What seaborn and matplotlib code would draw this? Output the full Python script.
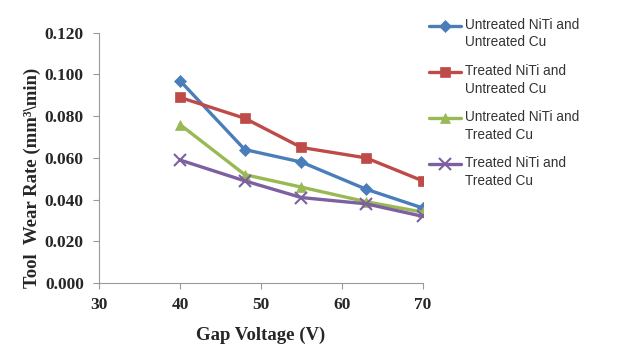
import matplotlib
matplotlib.use('Agg')
import matplotlib.pyplot as plt
from matplotlib.legend_handler import HandlerLine2D
import seaborn as sns
import pandas as pd
import numpy as np

# Datos
voltaje = [40, 48, 55, 63, 70]
untreated_niti_untreated_cu = [0.097, 0.064, 0.058, 0.045, 0.036]
treated_niti_untreated_cu = [0.089, 0.079, 0.065, 0.060, 0.049]
untreated_niti_treated_cu = [0.076, 0.052, 0.046, 0.039, 0.034]
treated_niti_treated_cu = [0.059, 0.049, 0.041, 0.038, 0.032]

series = [
    ('Untreated NiTi and\nUntreated Cu', untreated_niti_untreated_cu, '#4A7EBB', 'D', 6),
    ('Treated NiTi and\nUntreated Cu', treated_niti_untreated_cu, '#BE4B48', 's', 7),
    ('Untreated NiTi and\nTreated Cu', untreated_niti_treated_cu, '#98B954', '^', 7),
    ('Treated NiTi and\nTreated Cu', treated_niti_treated_cu, '#7D60A0', 'x', 8),
]


class HandlerArriba(HandlerLine2D):
    # sube la muestra de linea a la altura de la primera linea del texto
    def create_artists(self, legend, orig_handle, xdescent, ydescent,
                       width, height, fontsize, trans):
        arts = super().create_artists(legend, orig_handle, xdescent, ydescent,
                                      width, height, fontsize, trans)
        for a in arts:
            a.set_ydata(np.asarray(a.get_ydata()) + 6.2)
        return arts


sns.set_style('white')
plt.rcParams['font.family'] = ['Liberation Serif', 'DejaVu Serif']

fig, ax = plt.subplots(figsize=(6.19, 3.63), dpi=100)
fig.subplots_adjust(left=0.16, right=0.683, top=0.91, bottom=0.22)

for nombre, valores, color, marca, ms in series:
    df = pd.DataFrame({'x': voltaje, 'y': valores})
    sns.lineplot(data=df, x='x', y='y', ax=ax, color=color, marker=marca,
                 markersize=ms, linewidth=2.4, label=nombre,
                 markeredgecolor=color, markeredgewidth=1.5 if marca == 'x' else 0.5)

ax.set_xlim(30, 70)
ax.set_ylim(0, 0.12)
ax.set_xticks([30, 40, 50, 60, 70])
ax.set_yticks([0, 0.02, 0.04, 0.06, 0.08, 0.10, 0.12])
ax.set_yticklabels([f'{v:.3f}' for v in ax.get_yticks()])
ax.tick_params(axis='both', labelsize=12.5, direction='out', length=4, width=0.8,
               color='#999999', left=True, bottom=True)
ax.tick_params(axis='x', pad=6)
ax.tick_params(axis='y', pad=7)
for lbl in ax.get_xticklabels() + ax.get_yticklabels():
    lbl.set_fontweight('bold')

sns.despine(ax=ax)
for s in ['left', 'bottom']:
    ax.spines[s].set_color('#999999')
    ax.spines[s].set_linewidth(0.8)

ax.set_xlabel('Gap Voltage (V)', fontsize=13.5, fontweight='bold', labelpad=10)
ax.set_ylabel('Tool  Wear Rate (mm³\\min)', fontsize=13.5, fontweight='bold', labelpad=2)
ax.yaxis.set_label_coords(-0.178, 0.42)

handles, labels = ax.get_legend_handles_labels()
leg = ax.legend(handles, labels, loc='upper left', bbox_to_anchor=(0.98, 1.109),
                frameon=False, prop={'family': 'Liberation Sans', 'size': 9.8},
                handlelength=2.4, labelspacing=1.05, handletextpad=0.3,
                handler_map={h: HandlerArriba() for h in handles})
for t in leg.get_texts():
    t.set_linespacing(1.35)
    t.set_color('#333333')

fig.savefig('out.png', dpi=100)
